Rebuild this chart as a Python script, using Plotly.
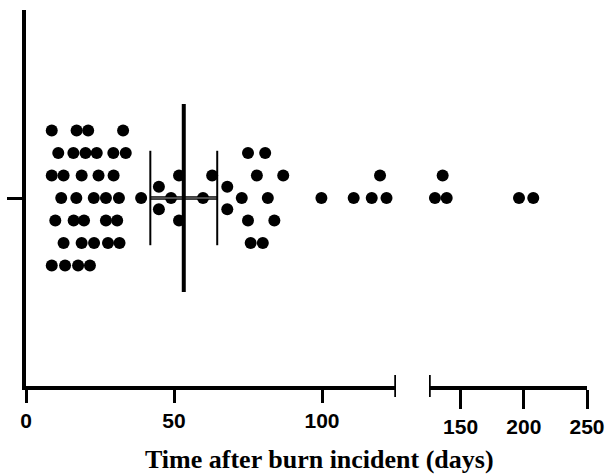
import plotly.graph_objects as go

# ---- data ----
row3_days = [8.7, 17.1, 21.0, 32.8]
row2_days = [10.9, 16.0, 20.1, 23.9, 29.5, 33.7, 75.0, 80.8]
row1_days = [8.7, 12.7, 18.8, 24.5, 29.6, 51.7, 62.9, 78.0, 86.9, 119.6, 135.8]
rowp5_days = [44.9, 68.0]
row0_days = [11.9, 17.0, 22.9, 27.0, 31.4, 38.9, 49.0, 59.8, 72.9, 81.7, 99.8,
             110.7, 116.8, 121.8, 129.7, 139.0, 196.2, 207.5]
rowm5_days = [44.9, 68.0]
rowm1_days = [9.9, 16.1, 19.6, 27.0, 30.8, 51.7, 75.0, 83.9]
rowm2_days = [12.7, 18.8, 23.0, 27.7, 31.6, 75.9, 80.0]
rowm3_days = [8.7, 13.2, 17.6, 21.6]

rows = [(3, row3_days), (2, row2_days), (1, row1_days), (0.5, rowp5_days),
        (0, row0_days), (-0.5, rowm5_days), (-1, rowm1_days),
        (-2, rowm2_days), (-3, rowm3_days)]

median_days = 53.3
ci_low = 42.0
ci_high = 64.6

break_at = 125
left_ticks = [0, 50, 100]
right_ticks = [150, 200, 250]
x_title = "Time after burn incident (days)"

# ---- build point lists ----
xl, yl, xr, yr = [], [], [], []
for r, days in rows:
    for d in days:
        if d < break_at:
            xl.append(d); yl.append(r)
        else:
            xr.append(d); yr.append(r)

W, H = 609, 475
fig = go.Figure()
mk = dict(color="black", size=12, line=dict(width=0))
fig.add_trace(go.Scatter(x=xl, y=yl, mode="markers", marker=mk, xaxis="x", yaxis="y",
                         cliponaxis=False, showlegend=False, hoverinfo="skip"))
fig.add_trace(go.Scatter(x=xr, y=yr, mode="markers", marker=mk, xaxis="x2", yaxis="y",
                         cliponaxis=False, showlegend=False, hoverinfo="skip"))

# summary lines
fig.add_trace(go.Scatter(x=[ci_low, ci_high], y=[0, 0], mode="lines",
                         line=dict(color="black", width=3.5), showlegend=False, hoverinfo="skip"))
fig.add_trace(go.Scatter(x=[ci_low, ci_high], y=[0, 0], mode="lines",
                         line=dict(color="#999999", width=1.2), showlegend=False, hoverinfo="skip"))
fig.add_trace(go.Scatter(x=[ci_low, ci_low], y=[-2.1, 2.1], mode="lines",
                         line=dict(color="black", width=2), showlegend=False, hoverinfo="skip"))
fig.add_trace(go.Scatter(x=[ci_high, ci_high], y=[-2.1, 2.1], mode="lines",
                         line=dict(color="black", width=2), showlegend=False, hoverinfo="skip"))
fig.add_trace(go.Scatter(x=[median_days, median_days], y=[-4.18, 4.18], mode="lines",
                         line=dict(color="black", width=4), showlegend=False, hoverinfo="skip"))

tickfont = dict(family="Liberation Sans", size=21, color="black", weight="bold")
common = dict(showline=True, linecolor="black", linewidth=3.5, ticks="outside",
              tickcolor="black", tickwidth=3, showgrid=False, zeroline=False,
              tickfont=tickfont, fixedrange=True)

fig.update_layout(
    width=W, height=H,
    margin=dict(l=0, r=0, t=0, b=0, autoexpand=False),
    paper_bgcolor="white", plot_bgcolor="white",
    xaxis=dict(domain=[26 / W, 396 / W], range=[0, break_at], tickvals=left_ticks,
               ticklen=13, anchor="y", **common),
    xaxis2=dict(domain=[429 / W, 587 / W], range=[break_at, 250], tickvals=right_ticks,
                ticklen=19, anchor="y", **common),
    yaxis=dict(domain=[89 / H, 465 / H], range=[-8.36, 8.36], tickvals=[0],
               showticklabels=False, ticklen=15, anchor="x",
               **{k: v for k, v in common.items() if k != "tickfont"}),
    shapes=[
        dict(type="line", xref="x", x0=break_at, x1=break_at, yref="paper",
             y0=(H - 397) / H, y1=(H - 375) / H, line=dict(color="black", width=3.5)),
        dict(type="line", xref="x2", x0=break_at, x1=break_at, yref="paper",
             y0=(H - 397) / H, y1=(H - 375) / H, line=dict(color="black", width=3.5)),
    ],
    annotations=[dict(text=x_title, xref="paper", yref="paper", x=319 / W, y=(H - 459) / H,
                      xanchor="center", yanchor="middle", showarrow=False,
                      font=dict(family="Liberation Serif", size=26, color="black", weight="bold"))],
)

fig.write_html("out.html", config={"displayModeBar": False},
               post_script="document.body.style.margin='0';document.body.style.overflow='hidden';")
